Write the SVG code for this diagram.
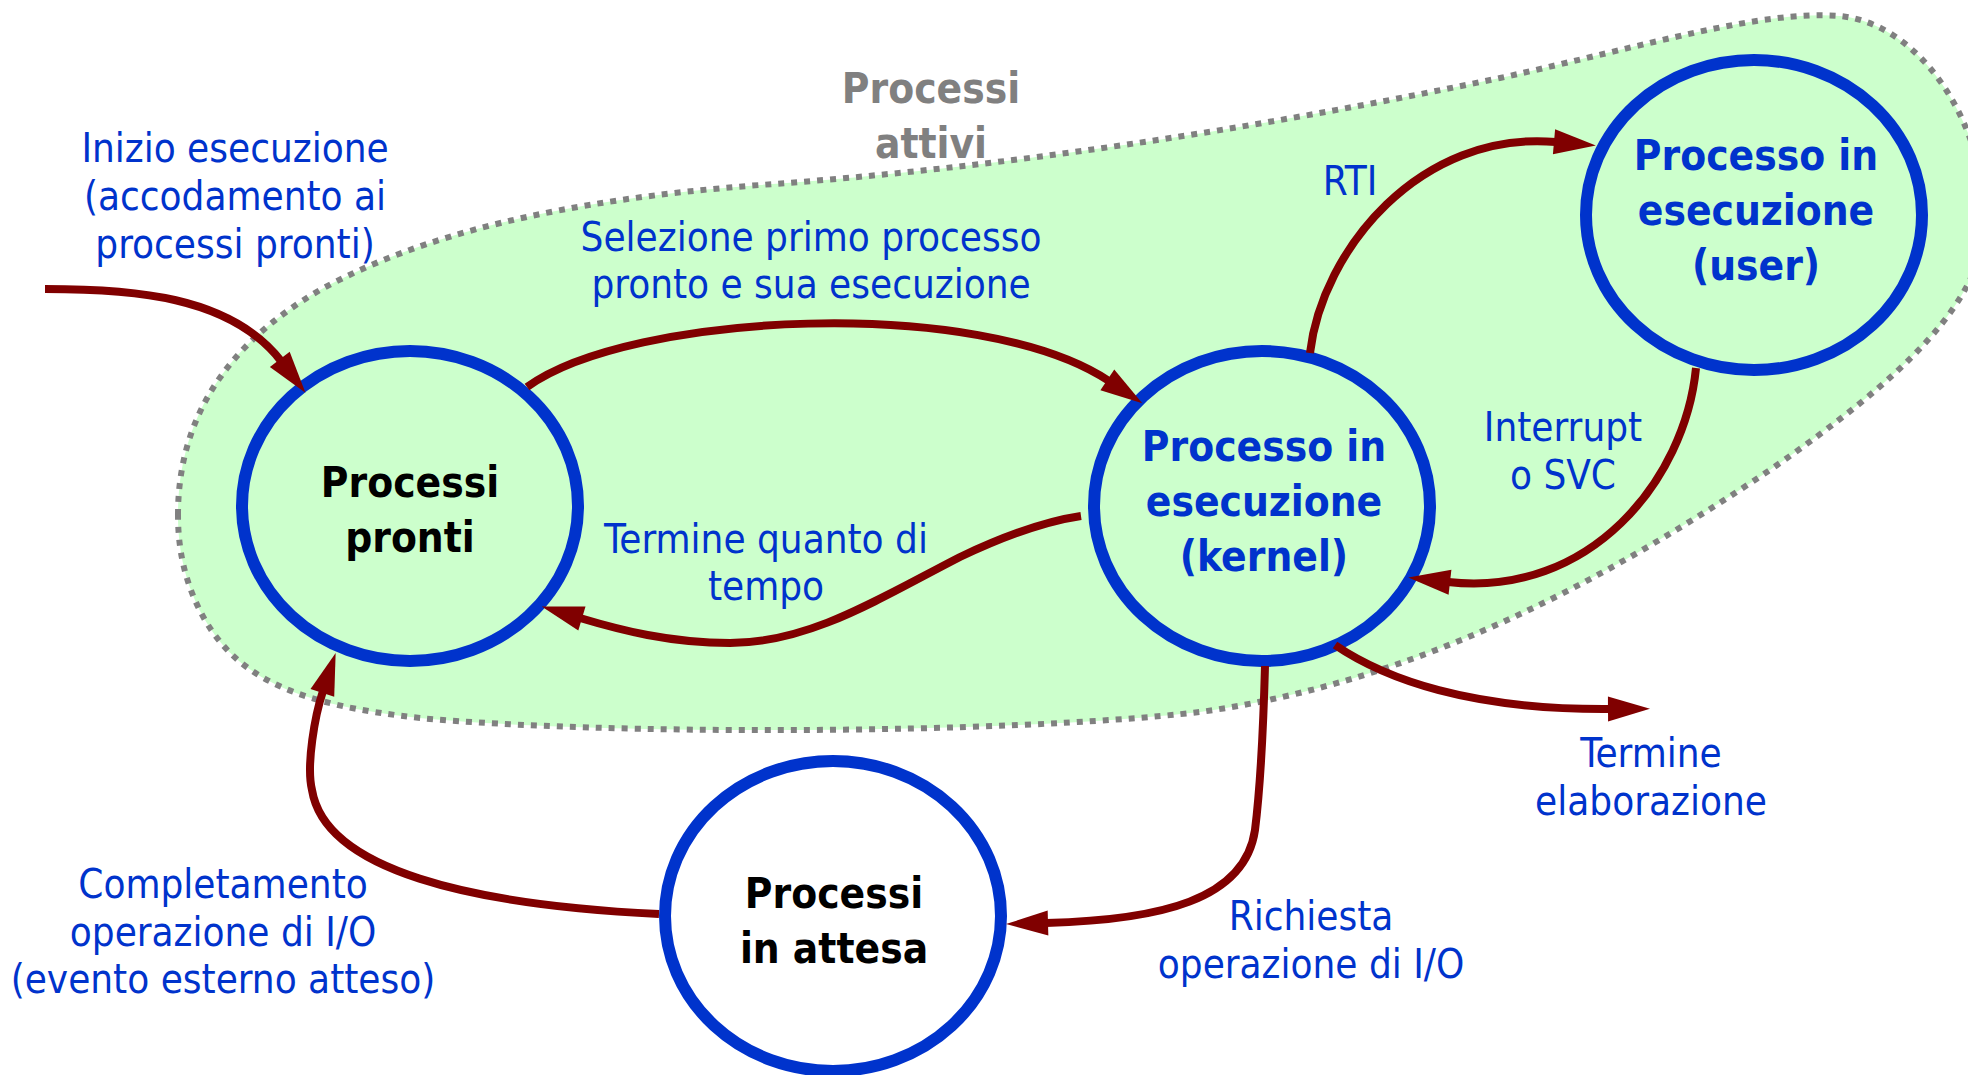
<svg xmlns="http://www.w3.org/2000/svg" width="1968" height="1075" viewBox="0 0 1968 1075">
  <style>
    .area { fill: #ccffcc; stroke: #808080; stroke-width: 6; stroke-dasharray: 6 7; }
    .state { stroke: #0033cc; stroke-width: 12; }
    .inside { fill: #ccffcc; }
    .outside { fill: #ffffff; }
    .edge { fill: none; stroke: #800000; stroke-width: 8; marker-end: url(#head); }
    text { font-family: "DejaVu Sans Condensed", "DejaVu Sans", sans-serif; text-anchor: middle; }
    .lbl { font-size: 40px; fill: #0033cc; }
    .name { font-size: 42px; font-weight: bold; }
    .dark { fill: #000000; }
    .blue { fill: #0033cc; }
    .grey { fill: #808080; }
  </style>
  <defs>
    <marker id="head" markerUnits="userSpaceOnUse" markerWidth="44" markerHeight="26" refX="2" refY="12.5" orient="auto" overflow="visible">
      <path d="M0,0 L42,12.5 L0,25 Z" fill="#800000"/>
    </marker>
  </defs>

  <!-- active-process region -->
  <g id="active-area">
    <path class="area" d="M 178 515 C 178 420, 225 345, 320 290 C 420 235, 560 200, 760 185 C 1000 168, 1250 130, 1500 78 C 1650 45, 1760 10, 1840 16 C 1920 24, 1982 120, 1985 215 C 1988 300, 1900 380, 1770 470 C 1620 570, 1430 680, 1200 712 C 1000 735, 600 735, 420 718 C 300 705, 240 680, 205 620 C 185 585, 178 550, 178 515 Z"/>
    <text class="name grey" x="931" y="103">Processi</text>
    <text class="name grey" x="931" y="158">attivi</text>
  </g>

  <!-- states -->
  <g id="node-pronti">
    <ellipse class="state inside" cx="410" cy="506" rx="168" ry="155"/>
    <text class="name dark" x="410" y="497">Processi</text>
    <text class="name dark" x="410" y="552">pronti</text>
  </g>
  <g id="node-kernel">
    <ellipse class="state inside" cx="1262" cy="506" rx="168" ry="155"/>
    <text class="name blue" x="1264" y="461">Processo in</text>
    <text class="name blue" x="1264" y="516">esecuzione</text>
    <text class="name blue" x="1264" y="571">(kernel)</text>
  </g>
  <g id="node-user">
    <ellipse class="state inside" cx="1754" cy="215" rx="168" ry="155"/>
    <text class="name blue" x="1756" y="170">Processo in</text>
    <text class="name blue" x="1756" y="225">esecuzione</text>
    <text class="name blue" x="1756" y="280">(user)</text>
  </g>
  <g id="node-attesa">
    <ellipse class="state outside" cx="833" cy="916" rx="168" ry="155"/>
    <text class="name dark" x="834" y="908">Processi</text>
    <text class="name dark" x="834" y="963">in attesa</text>
  </g>

  <!-- transitions -->
  <g id="connectors">
    <path class="edge" d="M 45 289 C 130 289, 230 295, 281 361"/>
    <path class="edge" d="M 527 387 C 630 312, 980 295, 1109 381"/>
    <path class="edge" d="M 1081 516 C 1040 522, 1000 538, 960 557 C 880 598, 810 643, 730 643 C 670 643, 620 630, 580 618"/>
    <path class="edge" d="M 1310 353 C 1322 250, 1420 130, 1556 142"/>
    <path class="edge" d="M 1696 368 C 1685 480, 1590 598, 1448 582"/>
    <path class="edge" d="M 1335 645 C 1385 679, 1470 710, 1610 709"/>
    <path class="edge" d="M 1265 666 C 1263 740, 1260 790, 1255 830 C 1245 900, 1160 920, 1046 923"/>
    <path class="edge" d="M 659 914 C 470 905, 325 870, 312 790 C 306 765, 315 715, 323 691"/>
  </g>

  <!-- transition labels -->
  <g id="labels">
    <text class="lbl" x="235" y="162">Inizio esecuzione</text>
    <text class="lbl" x="235" y="210">(accodamento ai</text>
    <text class="lbl" x="235" y="258">processi pronti)</text>

    <text class="lbl" x="811" y="251">Selezione primo processo</text>
    <text class="lbl" x="811" y="298">pronto e sua esecuzione</text>

    <text class="lbl" x="766" y="553">Termine quanto di</text>
    <text class="lbl" x="766" y="600">tempo</text>

    <text class="lbl" x="1350" y="195">RTI</text>

    <text class="lbl" x="1563" y="441">Interrupt</text>
    <text class="lbl" x="1563" y="489">o SVC</text>

    <text class="lbl" x="1651" y="767">Termine</text>
    <text class="lbl" x="1651" y="815">elaborazione</text>

    <text class="lbl" x="1311" y="930">Richiesta</text>
    <text class="lbl" x="1311" y="978">operazione di I/O</text>

    <text class="lbl" x="223" y="898">Completamento</text>
    <text class="lbl" x="223" y="946">operazione di I/O</text>
    <text class="lbl" x="223" y="993">(evento esterno atteso)</text>
  </g>
</svg>
